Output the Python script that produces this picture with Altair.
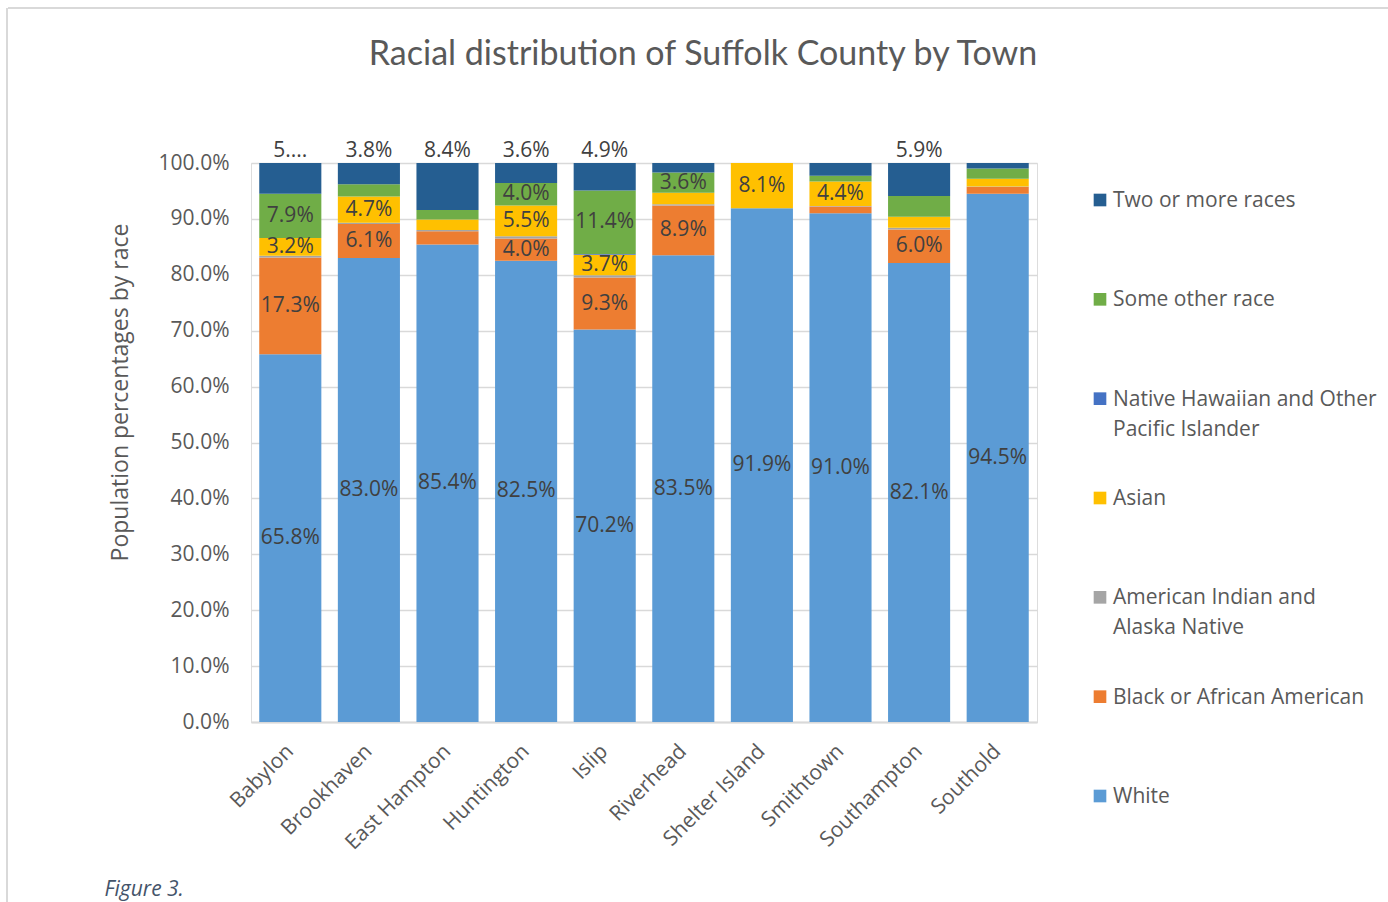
import altair as alt
import pandas as pd

towns = ["Babylon", "Brookhaven", "East Hampton", "Huntington", "Islip",
         "Riverhead", "Shelter Island", "Smithtown", "Southampton", "Southold"]

races = ["White", "Black or African American", "American Indian and Alaska Native",
         "Asian", "Native Hawaiian and Other Pacific Islander", "Some other race",
         "Two or more races"]

# legend texts as wrapped in the original
legend_text = ["White", "Black or African American", "American Indian and\nAlaska Native",
               "Asian", "Native Hawaiian and Other\nPacific Islander", "Some other race",
               "Two or more races"]

white = [65.8, 83.0, 85.4, 82.5, 70.2, 83.5, 91.9, 91.0, 82.1, 94.5]
black = [17.3, 6.1, 2.4, 4.0, 9.3, 8.9, 0.0, 1.2, 6.0, 1.2]
aian = [0.3, 0.2, 0.2, 0.4, 0.4, 0.2, 0.0, 0.1, 0.3, 0.1]
asian = [3.2, 4.7, 1.9, 5.5, 3.7, 2.1, 8.1, 4.4, 2.0, 1.4]
nhpi = [0.0, 0.0, 0.0, 0.0, 0.1, 0.0, 0.0, 0.0, 0.0, 0.0]
other = [7.9, 2.2, 1.7, 4.0, 11.4, 3.6, 0.0, 1.0, 3.7, 1.8]
two_more = [5.5, 3.8, 8.4, 3.6, 4.9, 1.7, 0.0, 2.3, 5.9, 1.0]

# which data labels Excel displayed (1 = shown)
show_white = [1, 1, 1, 1, 1, 1, 1, 1, 1, 1]
show_black = [1, 1, 0, 1, 1, 1, 0, 0, 1, 0]
show_aian = [0] * 10
show_asian = [1, 1, 0, 1, 1, 0, 1, 1, 0, 0]
show_nhpi = [0] * 10
show_other = [1, 0, 0, 1, 1, 1, 0, 0, 0, 0]
show_two = [1, 1, 1, 1, 1, 0, 0, 0, 1, 0]
# truncated label text as in the original
label_override = {("Babylon", "Two or more races"): "5...."}

colors = ["#5B9BD5", "#ED7D31", "#A5A5A5", "#FFC000", "#4472C4", "#70AD47", "#255E91"]

series = [white, black, aian, asian, nhpi, other, two_more]
shows = [show_white, show_black, show_aian, show_asian, show_nhpi, show_other, show_two]

rows = []
for ri, (race, vals, sh) in enumerate(zip(races, series, shows)):
    for ti, town in enumerate(towns):
        txt = label_override.get((town, race), f"{vals[ti]:.1f}%")
        rows.append({"town": town, "race": race, "value": vals[ti], "rank": ri,
                     "show": sh[ti], "label": txt, "top": 1 if race == "Two or more races" else 0})
df = pd.DataFrame(rows)

legend_order = races[::-1]
legend_df = pd.DataFrame({"race": races, "text": legend_text})

color_scale = alt.Scale(domain=races, range=colors)

FONT = "Open Sans"
GRID = "#D9D9D9"

base = alt.Chart(df)

bars = base.mark_bar().encode(
    x=alt.X("town:N", sort=towns,
            scale=alt.Scale(paddingInner=0.21, paddingOuter=0.105),
            axis=alt.Axis(title="Figure 3.", labelAngle=-45, labelAlign="right",
                          labelBaseline="middle", labelPadding=26, ticks=False,
                          domainColor=GRID, domainWidth=2,
                          labelFont=FONT, labelFontSize=21, labelColor="#595959",
                          titleFont=FONT, titleFontSize=21, titleFontStyle="italic",
                          titleFontWeight="normal", titleColor="#44546A",
                          titleX=-147, titleY=173, titleAlign="left",
                          titleBaseline="alphabetic")),
    y=alt.Y("value:Q", stack="zero",
            scale=alt.Scale(domain=[0, 100], nice=False),
            axis=alt.Axis(title="Population percentages by race", values=list(range(0, 101, 10)),
                          labelExpr="format(datum.value, '.1f') + '%'",
                          ticks=False, domain=False, gridColor=GRID, gridWidth=1.5,
                          labelPadding=22, labelFont=FONT, labelFontSize=21,
                          labelColor="#595959", titleFont=FONT, titleFontSize=23,
                          titleFontWeight="normal", titleColor="#595959",
                          titleX=-131, titleY=229, titleAlign="center",
                          titleBaseline="middle", titleAngle=270)),
    color=alt.Color("race:N", scale=color_scale, legend=None),
    order=alt.Order("rank:Q", sort="ascending"),
)

stacked = base.transform_stack(
    stack="value", groupby=["town"], as_=["y0", "y1"],
    sort=[alt.SortField("rank", order="ascending")]
).transform_calculate(mid="(datum.y0 + datum.y1) / 2")

inner_labels = stacked.transform_filter(
    "datum.show == 1 && datum.top == 0"
).mark_text(font=FONT, fontSize=21, color="#404040", baseline="middle").encode(
    x=alt.X("town:N", sort=towns),
    y=alt.Y("mid:Q"),
    text="label:N",
)

top_labels = stacked.transform_filter(
    "datum.show == 1 && datum.top == 1"
).mark_text(font=FONT, fontSize=21, color="#404040", baseline="alphabetic", dy=-6).encode(
    x=alt.X("town:N", sort=towns),
    y=alt.Y("y1:Q"),
    text="label:N",
)

# legend drawn as its own layer, entries on an evenly spaced point scale
leg_y = alt.Y("race:N", sort=legend_order, axis=None,
              scale=alt.Scale(type="point", range=[37, 633], padding=0))
leg_base = alt.Chart(legend_df)
leg_sym = leg_base.mark_square(size=160, opacity=1).encode(
    x=alt.value(849), y=leg_y,
    color=alt.Color("race:N", scale=color_scale, legend=None),
)
leg_txt = leg_base.mark_text(font=FONT, fontSize=21, color="#595959", align="left",
                             baseline="alphabetic", dy=7, lineBreak="\n",
                             lineHeight=30).encode(
    x=alt.value(862), y=leg_y, text="text:N",
)

# light frame of the chart box
frame_df = pd.DataFrame({"k": [0]})
frame_top = alt.Chart(frame_df).mark_rule(color=GRID, strokeWidth=2).encode(
    x=alt.value(-243), x2=alt.value(1388 - 251), y=alt.value(-155))
frame_left = alt.Chart(frame_df).mark_rule(color=GRID, strokeWidth=2).encode(
    x=alt.value(-244), y=alt.value(-155), y2=alt.value(902 - 163))

main = alt.layer(bars, inner_labels, top_labels)
legend = alt.layer(leg_sym, leg_txt)

chart = alt.layer(main, legend, frame_top, frame_left).resolve_scale(
    y="independent"
).properties(
    width=786, height=559,
    title=alt.TitleParams("Racial distribution of Suffolk County by Town",
                          font="Lato", fontSize=34, fontWeight="normal", color="#595959",
                          anchor="middle", frame="group", dx=59, dy=92, offset=0,
                          baseline="alphabetic"),
    autosize=alt.AutoSizeParams(type="none"),
    padding={"left": 251, "top": 163, "right": 351, "bottom": 180},
).configure_view(stroke=None).configure(background="white")

chart.save("out.html", embed_options={"renderer": "svg", "actions": False})
